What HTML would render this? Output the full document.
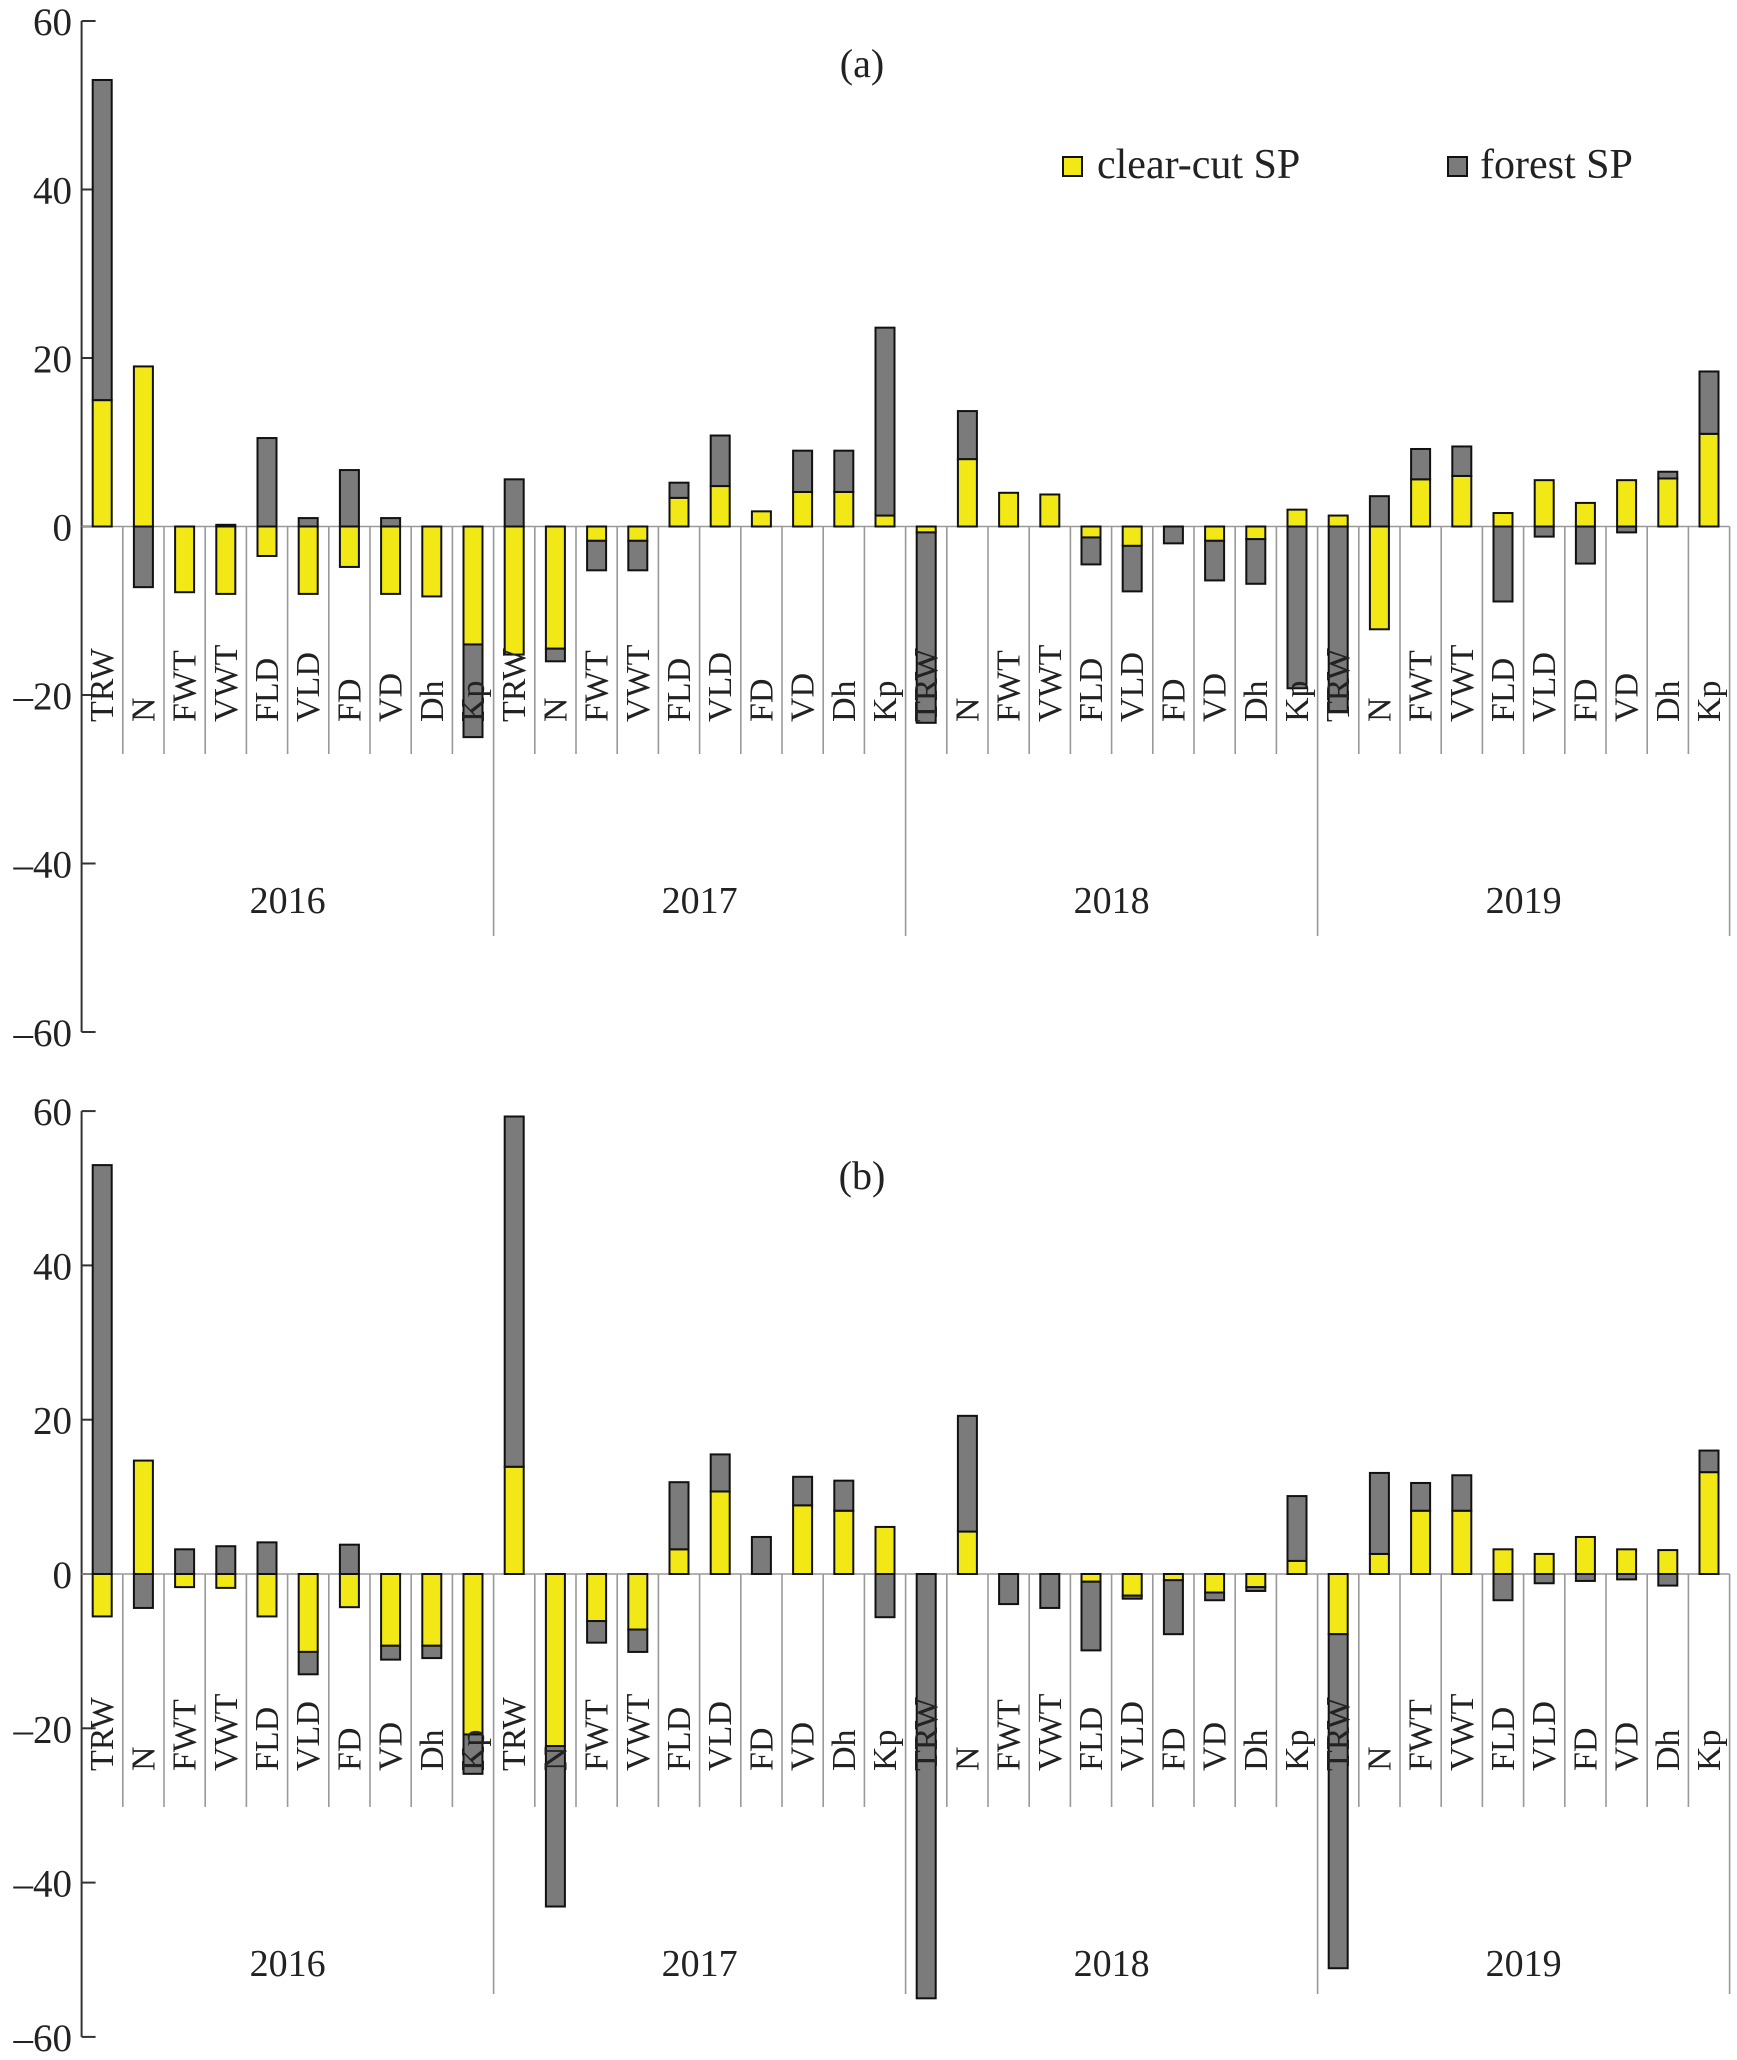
<!DOCTYPE html>
<html><head><meta charset="utf-8"><style>
html,body{margin:0;padding:0;background:#fff;}
svg{display:block;font-family:"Liberation Serif","DejaVu Serif",serif;}
</style></head><body>
<svg id="chart" width="1737" height="2060" viewBox="0 0 1737 2060" xmlns="http://www.w3.org/2000/svg"></svg>
<script>
const categories = ["TRW","N","FWT","VWT","FLD","VLD","FD","VD","Dh","Kp"];
const years = ["2016","2017","2018","2019"];
const yTicks = [60,40,20,0,-20,-40,-60];
const clearA = [15,19,-7.8,-8,-3.5,-8,-4.8,-8,-8.3,-14,
  -15.2,-14.5,-1.7,-1.7,3.4,4.8,1.8,4.1,4.1,1.3,
  -0.7,8,4,3.8,-1.3,-2.3,0,-1.7,-1.5,2,
  1.3,-12.2,5.6,6,1.6,5.5,2.8,5.5,5.7,11];
const forestA = [38,-7.2,0,0.2,10.5,1,6.7,1,0,-11,
  5.6,-1.5,-3.5,-3.5,1.8,6,0,4.9,4.9,22.3,
  -22.6,5.7,0,0,-3.2,-5.4,-2,-4.7,-5.3,-19.2,
  -21.9,3.6,3.6,3.5,-8.9,-1.2,-4.4,-0.7,0.8,7.4];
const clearB = [-5.5,14.7,-1.7,-1.8,-5.5,-10.1,-4.3,-9.3,-9.3,-20.8,
  13.9,-22.3,-6.1,-7.2,3.2,10.7,0,8.9,8.2,6.1,
  0,5.5,0,0,-1,-2.8,-0.8,-2.4,-1.7,1.7,
  -7.8,2.6,8.2,8.2,3.2,2.6,4.8,3.2,3.1,13.2];
const forestB = [53,-4.4,3.2,3.6,4.1,-2.9,3.8,-1.8,-1.6,-5.1,
  45.4,-20.8,-2.8,-2.9,8.7,4.8,4.8,3.7,3.9,-5.6,
  -55,15,-3.9,-4.4,-8.9,-0.4,-7,-1,-0.5,8.4,
  -43.3,10.5,3.6,4.6,-3.4,-1.2,-0.9,-0.7,-1.5,2.8];

const NS="http://www.w3.org/2000/svg";
const svg=document.getElementById('chart');
function mk(tag,attrs,parent){const e=document.createElementNS(NS,tag);for(const k in attrs)e.setAttribute(k,attrs[k]);(parent||svg).appendChild(e);return e;}
const X0=81.6, CW=41.2, BW=19;
function xCenter(i){return X0+CW*(i+0.5);}

function panel(p){
  const g=mk('g',{});
  
  
  const yS=v=>p.zero-(v/20)*p.step;
  const ax=mk('line',{x1:X0,y1:yS(60),x2:X0,y2:yS(-60),stroke:'#333','stroke-width':2},g);
  
  
  yTicks.forEach(t=>{
    const y=yS(t);
    const tk=mk('line',{x1:X0,y1:y,x2:X0+14,y2:y,stroke:'#333','stroke-width':2},g);
    
    
    const tx=mk('text',{x:72,y:y+14,'text-anchor':'end','font-size':39,fill:'#222'},g);
    tx.textContent=t<0?'\u2013'+(-t):String(t);
    
    
  });
  const xEnd=X0+CW*40;
  for(let i=1;i<=40;i++){
    const x=X0+CW*i;
    const yr=(i%10===0);
    const s=mk('line',{x1:x,y1:p.zero,x2:x,y2:yr?p.yearSep:p.catSep,stroke:'#999','stroke-width':1.6},g);
    
    
  }
  const z=mk('line',{x1:X0,y1:p.zero,x2:xEnd,y2:p.zero,stroke:'#999','stroke-width':1.6},g);
  
  
  for(let i=0;i<40;i++){
    const xc=xCenter(i);
    const c=p.clear[i], f=p.forest[i];
    let posBase=0,negBase=0;
    [[c,'#f2e815','clear-cut-bar'],[f,'#7b7b7b','forest-bar']].forEach(([v,col,nm])=>{
      if(v===0)return;
      let a,b;
      if(v>0){a=posBase;b=posBase+v;posBase=b;}else{a=negBase;b=negBase+v;negBase=b;}
      const y1=yS(Math.max(a,b)), y2=yS(Math.min(a,b));
      const r=mk('rect',{x:xc-BW/2,y:y1,width:BW,height:Math.max(y2-y1,1),fill:col,stroke:'#111','stroke-width':2},g);
      
      
    });
  }
  for(let i=0;i<40;i++){
    const xc=xCenter(i)+11;
    const t=mk('text',{x:0,y:0,transform:`translate(${xc},${p.labBottom}) rotate(-90)`,'font-size':34,fill:'#222'},g);
    t.textContent=categories[i%10];
    
    
  }
  years.forEach((yv,j)=>{
    const t=mk('text',{x:X0+CW*(j*10+5),y:p.yearY,'text-anchor':'middle','font-size':38,fill:'#222'},g);
    t.textContent=yv;
    
    
  });
  const tt=mk('text',{x:862,y:p.titleY,'text-anchor':'middle','font-size':40,fill:'#222'},g);
  tt.textContent=p.title;
  
  
}
panel({name:'panel-a',title:'(a)',clear:clearA,forest:forestA,zero:526.5,step:168.5,catSep:754,yearSep:936,labBottom:722,yearY:913,titleY:77});
panel({name:'panel-b',title:'(b)',clear:clearB,forest:forestB,zero:1574,step:154.3,catSep:1807,yearSep:1994,labBottom:1771,yearY:1976,titleY:1189});

const lg=mk('g',{});


[[1063,1097,'#f2e815','clear-cut SP','legend-entry-clear-cut'],[1448,1480,'#7b7b7b','forest SP','legend-entry-forest']].forEach(([sx,tx,col,lab,nm])=>{
  const e=mk('g',{},lg);
  
  
  mk('rect',{x:sx,y:157,width:19,height:19,fill:col,stroke:'#111','stroke-width':2},e);
  const t=mk('text',{x:tx,y:178,'font-size':42,fill:'#222'},e);
  t.textContent=lab;
});
</script>
</body></html>
